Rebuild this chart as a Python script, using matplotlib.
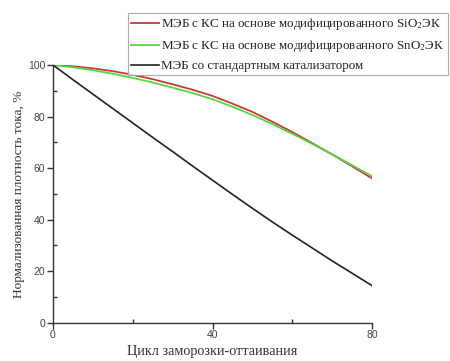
import matplotlib
matplotlib.use("Agg")
import matplotlib.pyplot as plt
from matplotlib.ticker import MultipleLocator

# freeze-thaw cycles
cycles = [0, 5, 10, 15, 20, 25, 30, 35, 40, 45, 50, 55, 60, 65, 70, 75, 80]

# normalized current density, %
sio2 = [100, 99.5, 98.7, 97.6, 96.2, 94.5, 92.5, 90.4, 88.0, 85.0, 81.8,
        78.0, 74.0, 69.7, 65.3, 60.7, 56.0]
sno2 = [100, 99.1, 98.0, 96.6, 95.0, 93.2, 91.2, 89.1, 86.7, 83.8, 80.6,
        77.1, 73.3, 69.4, 65.3, 61.1, 56.8]
standard = [100, 94.3, 88.7, 83.1, 77.5, 71.9, 66.4, 60.8, 55.3, 49.8, 44.4,
            39.1, 34.0, 29.0, 24.0, 19.2, 14.4]

labels = ["МЭБ с КС на основе модифицированного SiO$_2$ЭК",
          "МЭБ с КС на основе модифицированного SnO$_2$ЭК",
          "МЭБ со стандартным катализатором"]

plt.rcParams["mathtext.fontset"] = "stix"

fig = plt.figure(figsize=(4.5, 3.61), dpi=100)
ax = fig.add_axes([53 / 450, 1 - 322.7 / 361, 319 / 450, 257.7 / 361])

l1, = ax.plot(cycles, sio2, color="#c83a3a", lw=1.3)
l2, = ax.plot(cycles, sno2, color="#55d640", lw=1.3)
l3, = ax.plot(cycles, standard, color="#222222", lw=1.2)

ax.set_xlim(0, 80)
ax.set_ylim(0, 100)
ax.xaxis.set_major_locator(MultipleLocator(40))
ax.xaxis.set_minor_locator(MultipleLocator(20))
ax.yaxis.set_major_locator(MultipleLocator(20))
ax.yaxis.set_minor_locator(MultipleLocator(10))

for s in ["top", "right"]:
    ax.spines[s].set_visible(False)
for s in ["left", "bottom"]:
    ax.spines[s].set_color("#333333")
    ax.spines[s].set_linewidth(1.0)

ax.tick_params(which="major", direction="out", length=4, width=1, color="#333333",
               labelsize=7.5, labelcolor="#444444", pad=1.5)
ax.tick_params(which="minor", direction="in", length=3, width=1, color="#333333")
for t in ax.get_xticklabels() + ax.get_yticklabels():
    t.set_family("Liberation Sans")

ax.set_xlabel("Цикл заморозки-оттаивания", family="Liberation Serif", fontsize=10.3,
              color="#333333")
ax.xaxis.set_label_coords(0.5, -0.088)
ax.set_ylabel("Нормализованная плотность тока, %", family="Liberation Serif", fontsize=9.5,
              color="#333333", labelpad=2)

leg = fig.legend([l1, l2, l3], labels, loc="upper left",
                 bbox_to_anchor=(128 / 450, 1 - 13 / 361),
                 prop={"family": "Liberation Serif", "size": 9.4},
                 frameon=True, fancybox=False, handlelength=2.1, handletextpad=0.2,
                 borderpad=0.25, labelspacing=0.45, borderaxespad=0)
leg.get_frame().set_edgecolor("#999999")
leg.get_frame().set_linewidth(0.8)
for t in leg.get_texts():
    t.set_color("#222222")

fig.savefig("out.png", dpi=100)
